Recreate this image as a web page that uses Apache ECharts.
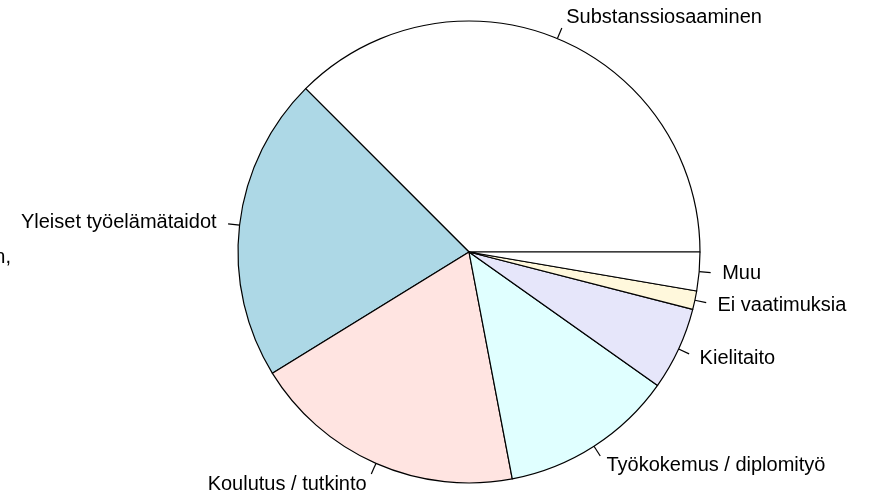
<!DOCTYPE html>
<html>
<head>
<meta charset="utf-8">
<script src="https://cdn.jsdelivr.net/npm/echarts@6/dist/echarts.min.js"></script>
<style>
  html, body { margin: 0; padding: 0; background: #fff; }
  #chart { width: 872px; height: 496px; }
</style>
</head>
<body>
<div id="chart"></div>
<script>
// data (R pie order: counterclockwise from 3 o'clock)
const categories = ['Substanssiosaaminen', 'Yleiset työelämätaidot', 'Koulutus / tutkinto',
  'Työkokemus / diplomityö', 'Kielitaito', 'Ei vaatimuksia', 'Muu'];
const values = [37.5, 21.3, 19.2, 12.2, 5.8, 1.3, 2.7];
const colors = ['#FFFFFF', '#ADD8E6', '#FFE4E1', '#E0FFFF', '#E6E6FA', '#FFF8DC', '#FFFFFF'];

const cx = 469, cy = 252, r = 231;
const total = values.reduce((a, b) => a + b, 0);

// middle angle of each slice, in radians, counterclockwise from 0
const midAngles = [];
let acc = 0;
values.forEach(v => {
  midAngles.push(((acc + v / 2) / total) * 2 * Math.PI);
  acc += v;
});

const chart = echarts.init(document.getElementById('chart'), null, { renderer: 'canvas' });

const option = {
  backgroundColor: '#fff',
  animation: false,
  textStyle: { fontFamily: 'Liberation Sans, Arial, sans-serif' },
  graphic: [{
    // tail of a label cut off at the left edge
    type: 'text',
    x: 11,
    y: 257,
    style: {
      text: 'n,', fontSize: 20, fill: '#000',
      align: 'right', verticalAlign: 'middle',
      fontFamily: 'Liberation Sans, Arial, sans-serif'
    }
  }],
  series: [{
    type: 'pie',
    center: [cx, cy],
    radius: [0, r],
    startAngle: 0,
    clockwise: false,
    avoidLabelOverlap: false,
    data: categories.map((name, i) => ({
      name: name,
      value: values[i],
      itemStyle: { color: colors[i] }
    })),
    itemStyle: { borderColor: '#000', borderWidth: 1.2 },
    emphasis: { disabled: true },
    label: {
      show: true,
      position: 'outside',
      formatter: '{b}',
      color: '#000',
      fontSize: 20,
      fontFamily: 'Liberation Sans, Arial, sans-serif'
    },
    labelLine: {
      show: true,
      length: 11,
      length2: 0,
      smooth: false,
      lineStyle: { color: '#000', width: 1.2 }
    },
    labelLayout: function (params) {
      const a = midAngles[params.dataIndex];
      const dx = Math.cos(a), dy = -Math.sin(a);
      return {
        x: cx + 1.1 * r * dx,
        y: cy + 1.1 * r * dy,
        align: dx < 0 ? 'right' : 'left',
        verticalAlign: 'middle',
        labelLinePoints: [
          [cx + r * dx, cy + r * dy],
          [cx + 1.05 * r * dx, cy + 1.05 * r * dy],
          [cx + 1.05 * r * dx, cy + 1.05 * r * dy]
        ]
      };
    }
  }]
};

chart.setOption(option);
window.addEventListener('resize', () => chart.resize());
</script>
</body>
</html>
